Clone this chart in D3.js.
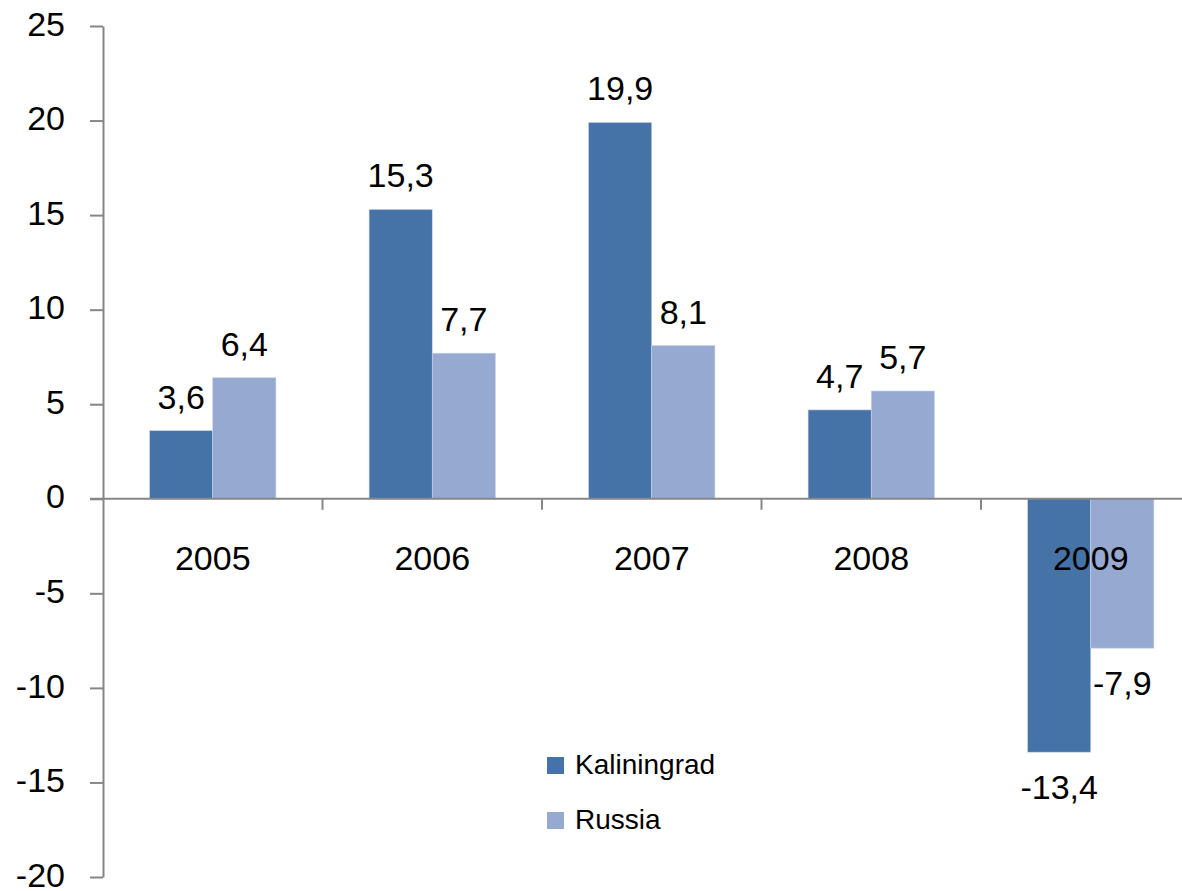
<!DOCTYPE html>
<html>
<head>
<meta charset="utf-8">
<script src="https://cdn.jsdelivr.net/npm/d3@7"></script>
<style>
  body { margin: 0; background: #fff; }
  svg { display: block; }
</style>
</head>
<body>
<div id="chart"></div>
<script>
const years = ["2005", "2006", "2007", "2008", "2009"];
const seriesNames = ["Kaliningrad", "Russia"];
const kaliningrad = [3.6, 15.3, 19.9, 4.7, -13.4];
const russia = [6.4, 7.7, 8.1, 5.7, -7.9];
const yTicks = [-20, -15, -10, -5, 0, 5, 10, 15, 20, 25];
const colors = ["#4673a7", "#95a9d1"];

const W = 1182, H = 891;
const font = "'Liberation Sans', Arial, sans-serif";
const band = 219.5;
const axisX = 103;

const svg = d3.select("#chart").append("svg")
  .attr("width", W)
  .attr("height", H);

const y = d3.scaleLinear().domain([-20, 25]).range([877, 26]);

const x0 = d3.scaleBand()
  .domain(years)
  .range([axisX, axisX + band * years.length])
  .padding(0);

const x1 = d3.scaleBand()
  .domain(seriesNames)
  .range([46.6, band - 46.6])
  .padding(0);

const rows = years.map((yr, i) => ({
  year: yr,
  values: [
    {name: seriesNames[0], value: kaliningrad[i]},
    {name: seriesNames[1], value: russia[i]}
  ]
}));

// bars
const groups = svg.append("g").selectAll("g")
  .data(rows)
  .enter()
  .append("g")
  .attr("transform", d => `translate(${x0(d.year)},0)`);

groups.selectAll("rect")
  .data(d => d.values)
  .enter()
  .append("rect")
  .attr("x", d => x1(d.name))
  .attr("y", d => y(Math.max(0, d.value)))
  .attr("width", x1.bandwidth())
  .attr("height", d => Math.abs(y(d.value) - y(0)))
  .attr("fill", (d, i) => colors[i])
  .attr("stroke", "#c9d3e6")
  .attr("stroke-width", 0.6);

// value labels
groups.selectAll("text")
  .data(d => d.values)
  .enter()
  .append("text")
  .attr("x", d => x1(d.name) + x1.bandwidth() / 2)
  .attr("y", d => d.value >= 0 ? y(d.value) - 22 : y(d.value) + 47)
  .attr("text-anchor", "middle")
  .attr("font-family", font)
  .attr("font-size", 34)
  .attr("fill", "#000")
  .text(d => String(d.value).replace(".", ","));

// y axis
const yAxis = svg.append("g")
  .attr("transform", `translate(${axisX},0)`)
  .call(d3.axisLeft(y).tickValues(yTicks).tickFormat(d => String(d))
    .tickSize(13).tickPadding(25).tickSizeOuter(0));
yAxis.select(".domain").attr("stroke", "#868686").attr("stroke-width", 2);
yAxis.selectAll(".tick line").attr("stroke", "#868686").attr("stroke-width", 2);
yAxis.selectAll(".tick text")
  .attr("font-family", font)
  .attr("font-size", 34)
  .attr("fill", "#000")
  .attr("dy", "0.27em");

// x axis at zero
const xAxis = svg.append("g");
xAxis.append("line")
  .attr("x1", axisX - 13)
  .attr("x2", axisX + band * years.length)
  .attr("y1", y(0))
  .attr("y2", y(0))
  .attr("stroke", "#868686")
  .attr("stroke-width", 2);
xAxis.selectAll("line.tick")
  .data(years.slice(1).concat(["end"]))
  .enter()
  .append("line")
  .attr("class", "tick")
  .attr("x1", d => d === "end" ? axisX + band * years.length : x0(d))
  .attr("x2", d => d === "end" ? axisX + band * years.length : x0(d))
  .attr("y1", y(0))
  .attr("y2", y(0) + 11)
  .attr("stroke", "#868686")
  .attr("stroke-width", 2);
xAxis.selectAll("text")
  .data(years)
  .enter()
  .append("text")
  .attr("x", d => x0(d) + band / 2)
  .attr("y", 570)
  .attr("text-anchor", "middle")
  .attr("font-family", font)
  .attr("font-size", 34)
  .attr("fill", "#000")
  .text(d => d);

// legend
const legend = svg.append("g").attr("transform", "translate(547,757)");
seriesNames.forEach((n, i) => {
  const g = legend.append("g").attr("transform", `translate(0,${i * 55})`);
  g.append("rect")
    .attr("width", 17)
    .attr("height", 17)
    .attr("fill", colors[i]);
  g.append("text")
    .attr("x", 28)
    .attr("y", 17)
    .attr("font-family", font)
    .attr("font-size", 28)
    .attr("fill", "#000")
    .text(n);
});
</script>
</body>
</html>
